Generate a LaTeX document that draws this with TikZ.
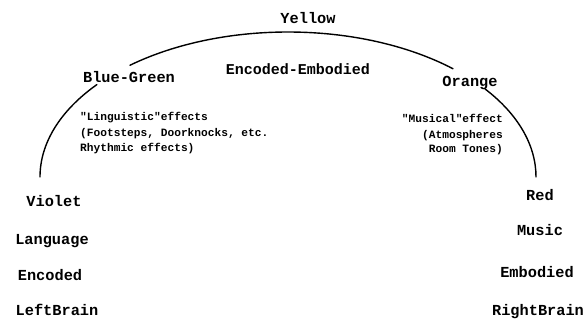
\documentclass[tikz,border=0pt]{standalone}
\usepackage{fontspec}
\setmonofont{Liberation Mono}
\usetikzlibrary{calc}
\begin{document}
\begin{tikzpicture}[x=1pt,y=1pt,
  lbl/.style={font=\ttfamily\bfseries\fontsize{15.3}{18}\selectfont, inner sep=0pt, anchor=base},
  note/.style={font=\ttfamily\bfseries\fontsize{11.2}{14}\selectfont, inner sep=0pt},
  band/.style={line width=1.4pt, line cap=round}]
\useasboundingbox (0,0) rectangle (585,320);
\fill[white] (0,0) rectangle (585,320);

% centre of the colour arc
\coordinate (c) at (288,143);

% the arc, broken where the colour names sit on it
\draw[band] (40,143) arc[start angle=180, end angle=140.4, x radius=248, y radius=145];
\draw[band] ($(c)+(129.6:248 and 145)$) arc[start angle=129.6, end angle=48.3, x radius=248, y radius=145];
\draw[band] (536,143) arc[start angle=0, end angle=37.4, x radius=248, y radius=145];

% colour names along the arc
\node[lbl] (yellow) at (308,296) {Yellow};
\node[lbl] (bluegreen) at (129,237) {Blue-Green};
\node[lbl] (orange) at (470,233) {Orange};
\node[lbl, font=\ttfamily\bfseries\fontsize{15}{18}\selectfont] (encemb) at (298,245) {Encoded-Embodied};

% left column
\node[lbl] (violet) at (54,113) {Violet};
\node[lbl] (language) at (52,75) {Language};
\node[lbl] (encoded) at (50,39) {Encoded};
\node[lbl] (leftbrain) at (57,4) {LeftBrain};

% right column
\node[lbl] (red) at (540,119) {Red};
\node[lbl] (music) at (540,84) {Music};
\node[lbl] (embodied) at (537,42) {Embodied};
\node[lbl] (rightbrain) at (538,4) {RightBrain};

% effect notes
\node[note, anchor=base west] (ling1) at (80,199) {"Linguistic"effects};
\node[note, anchor=base west] (ling2) at (80,183) {(Footsteps, Doorknocks, etc.};
\node[note, anchor=base west] (ling3) at (80,168) {Rhythmic effects)};

\node[note, anchor=base east] (mus1) at (503,197) {"Musical"effect};
\node[note, anchor=base east] (mus2) at (503,181) {(Atmospheres};
\node[note, anchor=base east] (mus3) at (503,167) {Room Tones)};
\end{tikzpicture}
\end{document}
